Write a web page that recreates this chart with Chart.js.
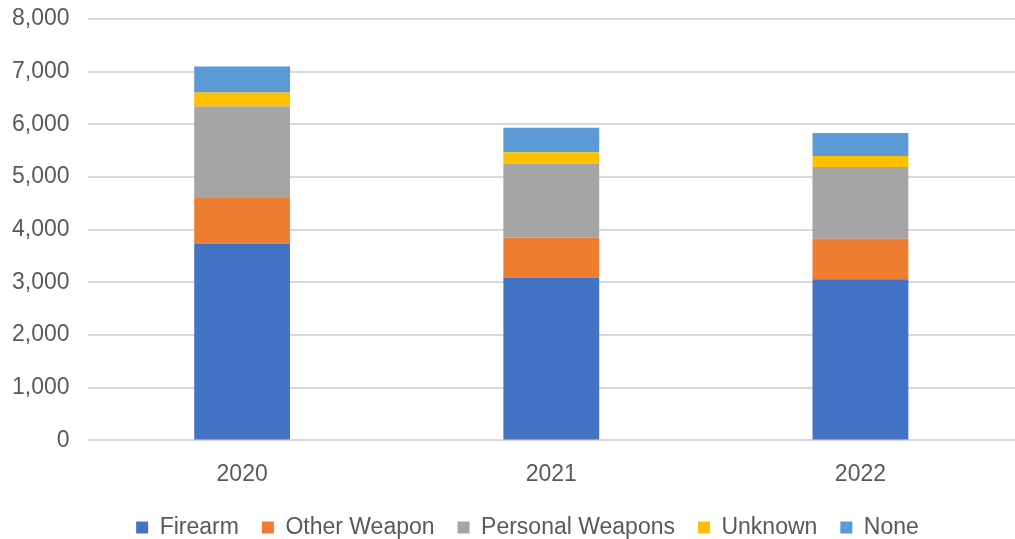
<!DOCTYPE html>
<html>
<head>
<meta charset="utf-8">
<script src="https://cdn.jsdelivr.net/npm/chart.js@4/dist/chart.umd.min.js"></script>
<style>
  html, body { margin: 0; padding: 0; background: #fff; }
  #wrap { width: 1015px; height: 539px; }
</style>
</head>
<body>
<div id="wrap"><canvas id="myChart" width="1015" height="539"></canvas></div>
<script>
var years = ['2020', '2021', '2022']
var firearm = [3732, 3086, 3061]
var otherWeapon = [882, 768, 766]
var personalWeapons = [1723, 1399, 1363]
var unknown = [266, 217, 209]
var none = [494, 467, 438]

var seriesNames = ['Firearm', 'Other Weapon', 'Personal Weapons', 'Unknown', 'None']
var seriesColors = ['#4472c4', '#ed7d31', '#a5a5a5', '#ffc000', '#5b9bd5']
var seriesValues = [firearm, otherWeapon, personalWeapons, unknown, none]

var datasets = seriesNames.map(function (name, i) {
    return {
        label: name,
        data: seriesValues[i],
        backgroundColor: seriesColors[i],
        borderWidth: 0,
        barPercentage: 0.31,
        categoryPercentage: 1
    }
})

Chart.defaults.font.family = "'Liberation Sans', Arial, sans-serif"
Chart.defaults.color = '#595959'

// nudge the legend a bit to the right and up once the layout is done
var legendShift = {
    id: 'legendShift',
    afterLayout: function (chart) {
        var lg = chart.legend
        lg.left += 20
        lg.right += 20
        lg.top -= 7
        lg.bottom -= 7
    }
}

const myChart = new Chart(document.getElementById('myChart'), {
    type: 'bar',
    data: { labels: years, datasets: datasets },
    plugins: [legendShift],
    options: {
        responsive: false,
        animation: false,
        layout: { padding: { top: 19, right: -6, left: -6, bottom: -17 } },
        plugins: {
            tooltip: { enabled: false },
            legend: {
                position: 'bottom',
                labels: {
                    boxWidth: 12,
                    boxHeight: 12,
                    padding: 23,
                    font: { size: 23 },
                    color: '#595959'
                }
            }
        },
        scales: {
            x: {
                stacked: true,
                grid: { display: false },
                border: { display: false },
                ticks: { font: { size: 23 }, padding: 12 }
            },
            y: {
                stacked: true,
                min: 0,
                max: 8000,
                // no extra room above the top tick label
                afterFit: function (scale) { scale.paddingTop = 0 },
                ticks: {
                    stepSize: 1000,
                    font: { size: 23 },
                    padding: 18,
                    callback: function (v) { return v.toLocaleString('en-US') }
                },
                grid: { color: '#d9d9d9', lineWidth: 2, drawTicks: false },
                border: { display: false }
            }
        }
    }
})
</script>
</body>
</html>
